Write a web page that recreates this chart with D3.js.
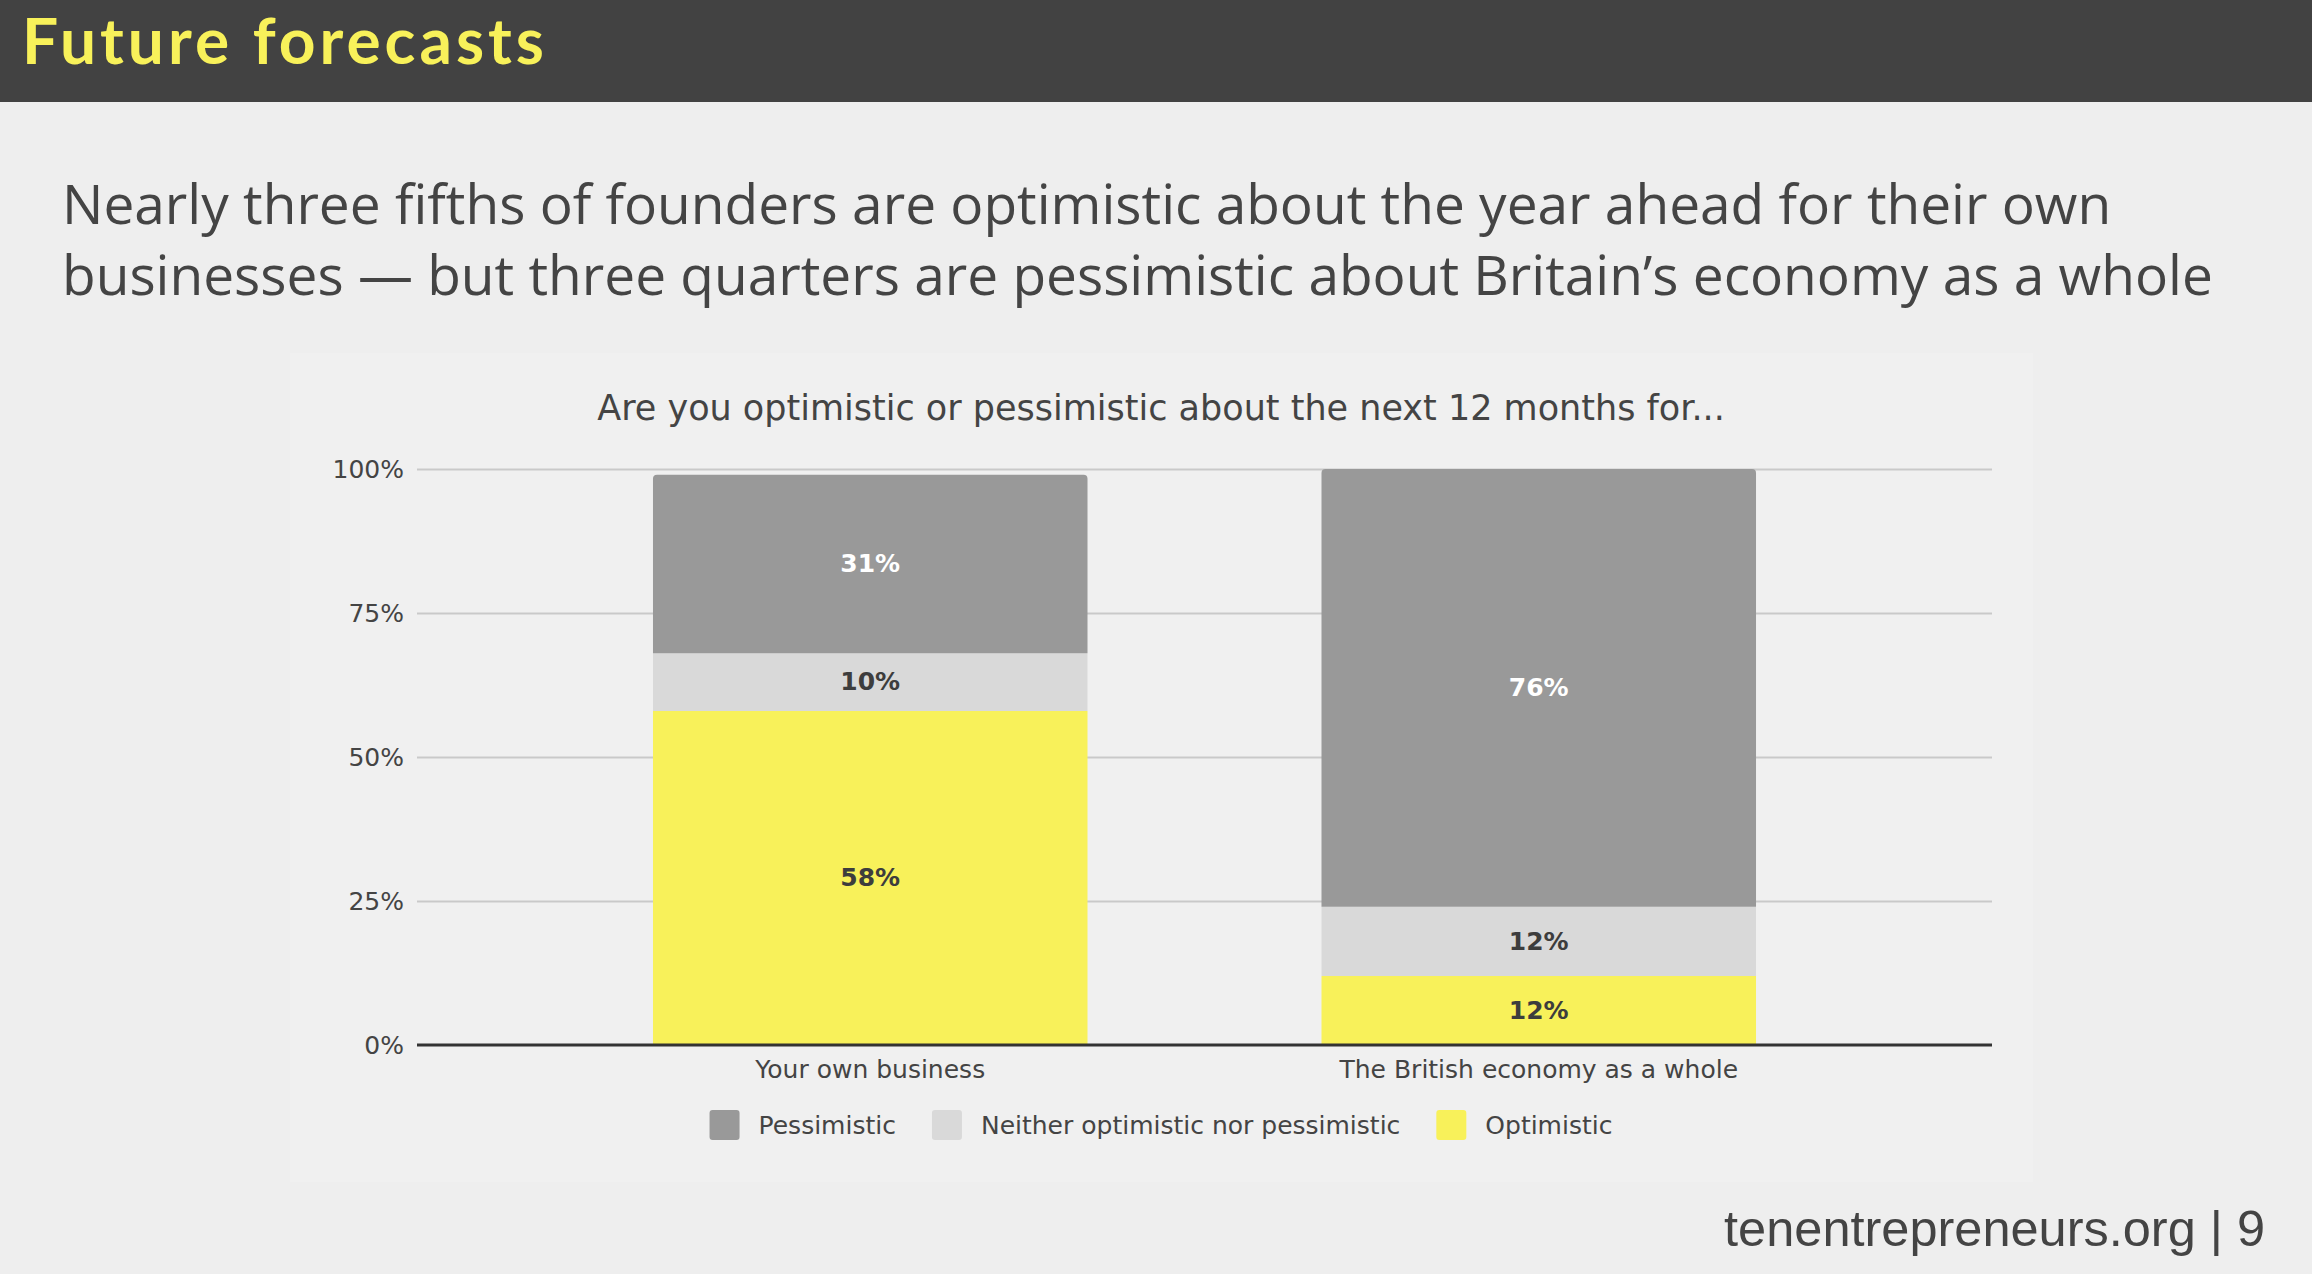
<!DOCTYPE html>
<html>
<head>
<meta charset="utf-8">
<script src="https://cdn.jsdelivr.net/npm/d3@7"></script>
<style>
  body { margin: 0; background: #eeeeee; }
  svg { display: block; }
</style>
</head>
<body>
<div id="chart-area"></div>
<script>
// chart data
var categories = ["Your own business", "The British economy as a whole"];
var seriesNames = ["Optimistic", "Neither optimistic nor pessimistic", "Pessimistic"];
var optimistic = [58, 12];
var neither = [10, 12];
var pessimistic = [31, 76];
var yTicks = [0, 25, 50, 75, 100];
var legendOrder = ["Pessimistic", "Neither optimistic nor pessimistic", "Optimistic"];

var colors = {
    "Optimistic": "#f8f15a",
    "Neither optimistic nor pessimistic": "#d9d9d9",
    "Pessimistic": "#999999"
};
var labelColors = {
    "Optimistic": "#3d3d3d",
    "Neither optimistic nor pessimistic": "#3d3d3d",
    "Pessimistic": "#ffffff"
};

var W = 2312, H = 1274;

var svg = d3.select("#chart-area").append("svg")
    .attr("width", W)
    .attr("height", H);

svg.append("rect").attr("width", W).attr("height", H).attr("fill", "#eeeeee");

// header
svg.append("rect").attr("width", W).attr("height", 102).attr("fill", "#424242");
svg.append("text")
    .attr("x", 22).attr("y", 64)
    .attr("font-family", "Lato, sans-serif")
    .attr("font-weight", 700)
    .attr("font-size", 64)
    .attr("textLength", 522)
    .attr("lengthAdjust", "spacing")
    .attr("fill", "#f8f15a")
    .text("Future forecasts");

var subtitle = [
    "Nearly three fifths of founders are optimistic about the year ahead for their own",
    "businesses \u2014 but three quarters are pessimistic about Britain\u2019s economy as a whole"
];
svg.selectAll(".sub")
    .data(subtitle)
    .enter()
    .append("text")
        .attr("class", "sub")
        .attr("x", 62)
        .attr("y", function(d, i) { return 224 + i * 71; })
        .attr("font-family", "'Open Sans', sans-serif")
        .attr("font-size", 55)
        .attr("fill", "#444444")
        .text(function(d) { return d; });

// chart panel
svg.append("rect")
    .attr("x", 290).attr("y", 353)
    .attr("width", 1743).attr("height", 829)
    .attr("fill", "#f0f0f0");

svg.append("text")
    .attr("x", 1161).attr("y", 420)
    .attr("text-anchor", "middle")
    .attr("font-family", "'DejaVu Sans', sans-serif")
    .attr("font-size", 35)
    .attr("fill", "#444444")
    .text("Are you optimistic or pessimistic about the next 12 months for...");

var y = d3.scaleLinear().domain([0, 100]).range([1045, 469]);
var x = d3.scaleBand()
    .domain(categories)
    .range([417, 1992])
    .paddingInner(0.35)
    .paddingOuter(0.353);

// gridlines + y labels
var yAxis = svg.append("g")
    .attr("transform", "translate(417,0)")
    .call(d3.axisLeft(y)
        .tickValues(yTicks)
        .tickSize(-1575)
        .tickPadding(13)
        .tickFormat(function(d) { return d + "%"; }));
yAxis.select(".domain").remove();
yAxis.selectAll(".tick line")
    .attr("stroke", function(d) { return d === 0 ? "none" : "#c9c9c9"; })
    .attr("stroke-width", 2);
yAxis.selectAll(".tick text")
    .attr("font-family", "'DejaVu Sans', sans-serif")
    .attr("font-size", 25)
    .attr("fill", "#444444");

// stacked bars
var table = categories.map(function(c, i) {
    return {
        category: c,
        "Optimistic": optimistic[i],
        "Neither optimistic nor pessimistic": neither[i],
        "Pessimistic": pessimistic[i]
    };
});
var stacked = d3.stack().keys(seriesNames)(table);

function segPath(x0, w, yTop, yBot, r) {
    return "M" + x0 + "," + yBot +
        "V" + (yTop + r) +
        "Q" + x0 + "," + yTop + " " + (x0 + r) + "," + yTop +
        "H" + (x0 + w - r) +
        "Q" + (x0 + w) + "," + yTop + " " + (x0 + w) + "," + (yTop + r) +
        "V" + yBot + "Z";
}

var layers = svg.selectAll(".layer")
    .data(stacked)
    .enter()
    .append("g")
        .attr("class", "layer")
        .attr("fill", function(d) { return colors[d.key]; });

layers.selectAll("path")
    .data(function(d) { return d.map(function(p) { return {key: d.key, p: p}; }); })
    .enter()
    .append("path")
        .attr("d", function(d) {
            var top = d.key === "Pessimistic" ? 4 : 0;
            return segPath(x(d.p.data.category), x.bandwidth(), y(d.p[1]), y(d.p[0]), top);
        });

layers.selectAll(".val")
    .data(function(d) { return d.map(function(p) { return {key: d.key, p: p}; }); })
    .enter()
    .append("text")
        .attr("class", "val")
        .attr("x", function(d) { return x(d.p.data.category) + x.bandwidth() / 2; })
        .attr("y", function(d) { return (y(d.p[0]) + y(d.p[1])) / 2; })
        .attr("dy", "0.33em")
        .attr("text-anchor", "middle")
        .attr("font-family", "'DejaVu Sans', sans-serif")
        .attr("font-weight", "bold")
        .attr("font-size", 25)
        .attr("fill", function(d) { return labelColors[d.key]; })
        .text(function(d) { return (d.p[1] - d.p[0]) + "%"; });

// baseline + x labels
var xAxis = svg.append("g")
    .attr("transform", "translate(0," + y(0) + ")")
    .call(d3.axisBottom(x).tickSize(0).tickPadding(15));
xAxis.select(".domain")
    .attr("d", "M417,0H1992")
    .attr("stroke", "#333333")
    .attr("stroke-width", 3);
xAxis.selectAll(".tick text")
    .attr("font-family", "'DejaVu Sans', sans-serif")
    .attr("font-size", 25)
    .attr("fill", "#444444");

// legend
var legend = svg.append("g");
var items = legend.selectAll(".item")
    .data(legendOrder)
    .enter()
    .append("g")
        .attr("class", "item");
items.append("rect")
    .attr("width", 30).attr("height", 30)
    .attr("rx", 3)
    .attr("y", 1110)
    .attr("fill", function(d) { return colors[d]; });
items.append("text")
    .attr("x", 49)
    .attr("y", 1125)
    .attr("dy", "0.36em")
    .attr("font-family", "'DejaVu Sans', sans-serif")
    .attr("font-size", 25)
    .attr("fill", "#444444")
    .text(function(d) { return d; });

var pos = 0;
items.each(function() {
    var g = d3.select(this);
    g.attr("transform", "translate(" + pos + ",0)");
    pos += 49 + g.select("text").node().getComputedTextLength() + 36;
});
var total = pos - 36;
legend.attr("transform", "translate(" + (1161 - total / 2) + ",0)");

// footer
svg.append("text")
    .attr("x", 2265).attr("y", 1246)
    .attr("text-anchor", "end")
    .attr("font-family", "'Liberation Sans', Arial, sans-serif")
    .attr("font-size", 50.5)
    .attr("fill", "#444444")
    .text("tenentrepreneurs.org | 9");
</script>
</body>
</html>
